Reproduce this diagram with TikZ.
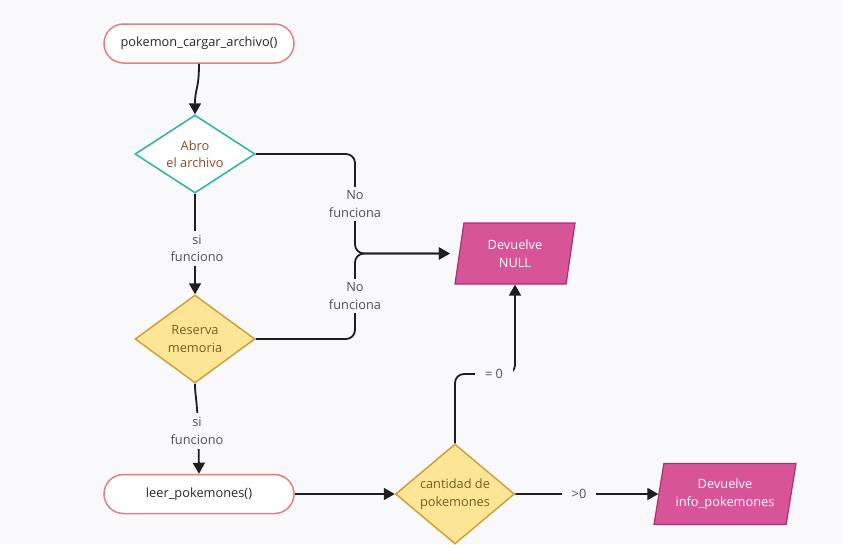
\documentclass[tikz,border=0pt]{standalone}
\usepackage{fontspec}
\setmainfont{Open Sans}
\usetikzlibrary{shapes.geometric,arrows.meta}
\definecolor{bg}{RGB}{249,249,251}
\definecolor{salmon}{RGB}{226,128,128}
\definecolor{tealc}{RGB}{43,178,168}
\definecolor{ylwfill}{RGB}{252,230,150}
\definecolor{ylwdraw}{RGB}{205,160,60}
\definecolor{pinkfill}{RGB}{216,84,152}
\definecolor{pinkdraw}{RGB}{170,50,110}
\definecolor{brownA}{RGB}{140,75,40}
\definecolor{brownB}{RGB}{120,90,30}
\definecolor{txt}{RGB}{40,40,40}
\definecolor{lbl}{RGB}{80,80,80}
\definecolor{edgec}{RGB}{30,30,30}
\begin{document}
\begin{tikzpicture}[x=1pt,y=-1pt,
  every node/.style={font=\fontsize{12.8}{17.5}\selectfont, align=center},
  term/.style={draw=salmon, fill=white, line width=1.5pt, rounded corners=19.5pt,
    minimum width=190pt, minimum height=39pt, text=txt},
  decision/.style={diamond, aspect=1.5, inner sep=0pt, line width=1.5pt},
  io/.style={trapezium, trapezium left angle=72, trapezium right angle=108,
    trapezium stretches body, fill=pinkfill, draw=pinkdraw, line width=1.2pt,
    text=white, minimum height=61pt, inner sep=0pt},
  conn/.style={draw=edgec, line width=1.8pt, -{Triangle[length=11pt,width=12pt]}},
  lab/.style={fill=bg, text=lbl, inner xsep=8pt, inner ysep=4pt}
]
\fill[bg] (0,0) rectangle (843,544);
\useasboundingbox (0,0) rectangle (843,544);

\node[term] (start) at (199,43.5) {pokemon\_cargar\_archivo()};
\node[decision, draw=tealc, fill=white, text=brownA, minimum width=120pt, minimum height=78pt] (d1) at (195,154) {Abro\\el archivo};
\node[decision, draw=ylwdraw, fill=ylwfill, text=brownB, minimum width=120pt, minimum height=88pt] (d2) at (195,339) {Reserva\\memoria};
\node[term] (leer) at (199,494) {leer\_pokemones()};
\node[decision, draw=ylwdraw, fill=ylwfill, text=brownB, minimum width=119pt, minimum height=100pt] (d3) at (455,494) {cantidad de\\pokemones};
\node[io, minimum width=120pt] (null) at (515,253.5) {Devuelve\\NULL};
\node[io, minimum width=142pt] (info) at (725,494) {Devuelve\\info\_pokemones};

\coordinate (jn) at (355,253.5);
\coordinate (k) at (515,374);

\draw[conn] (start.south) .. controls (199,90) and (195,88) .. (d1.north);
\draw[conn, rounded corners=9pt, shorten >=9pt] (d1.east) -| (jn) -- (null.west);
\draw[conn, rounded corners=9pt, shorten >=9pt] (d2.east) -| (jn) -- (null.west);
\draw[conn] (d1.south) -- (d2.north);
\draw[conn] (d2.south) .. controls (195,400) and (198,395) .. (leer.north);
\draw[conn] (leer.east) -- (d3.west);
\draw[conn, rounded corners=9pt] (d3.north) |- (k) -- (null.south);
\draw[conn] (d3.east) -- (info.west);

\node[lab] (l1) at (355,204) {No\\funciona};
\node[lab] (l2) at (355,296) {No\\funciona};
\node[lab] (l3) at (197,248.5) {si\\funciono};
\node[lab] (l4) at (197,431) {si\\funciono};
\node[lab, inner xsep=10pt, inner ysep=8pt] (l5) at (494,374) {= 0};
\node[lab, inner xsep=10pt] (l6) at (579,494) {>0};
\end{tikzpicture}
\end{document}
